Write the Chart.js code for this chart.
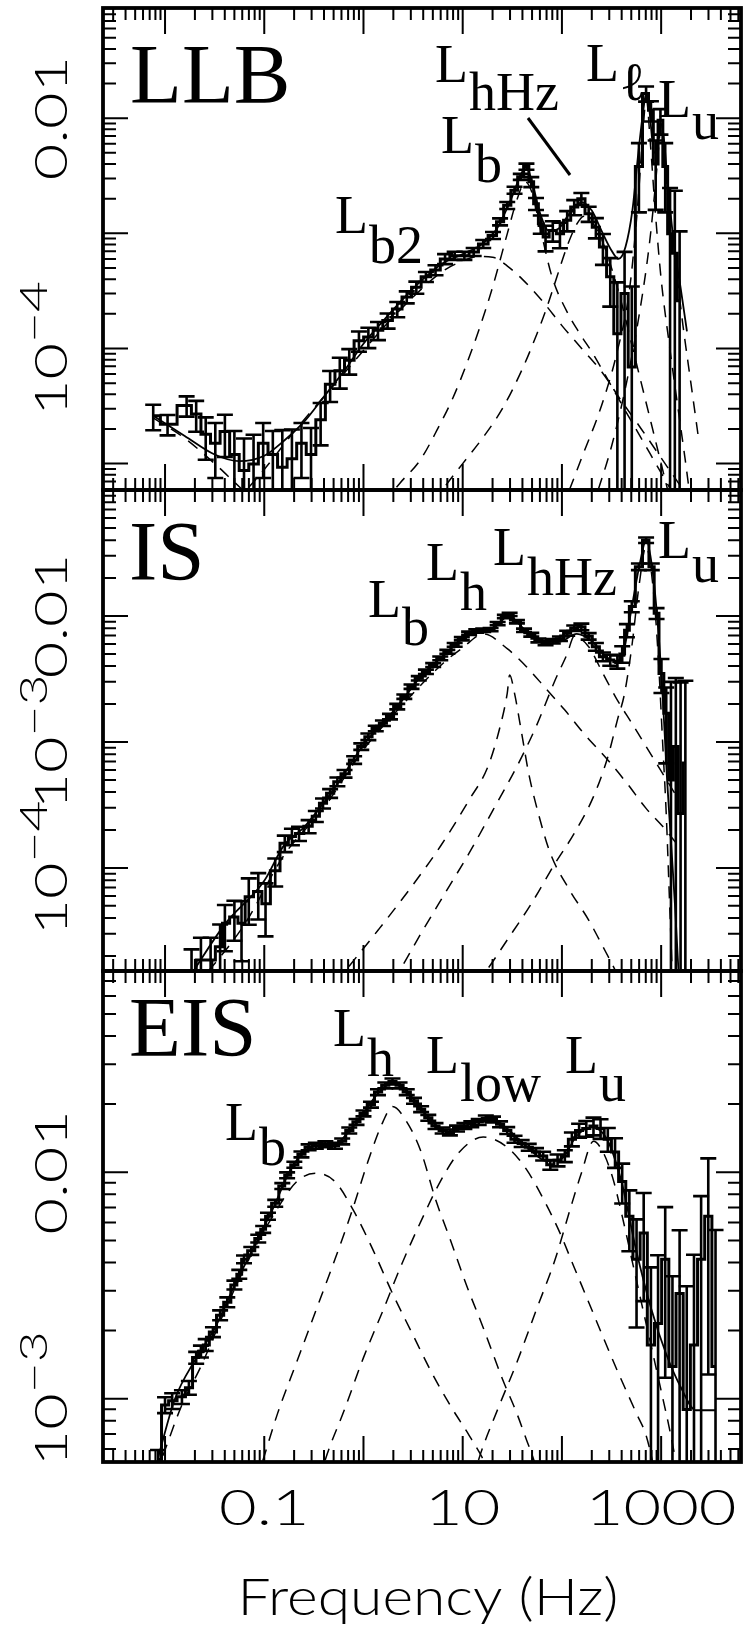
<!DOCTYPE html>
<html><head><meta charset="utf-8">
<script src="https://cdn.jsdelivr.net/npm/chart.js@4.4.0/dist/chart.umd.min.js"></script>
<style>
html,body{margin:0;padding:0;background:#fff;}
#wrap{position:relative;width:750px;height:1631px;overflow:hidden;background:#fff;}
canvas{position:absolute;left:0;top:0;}
</style></head><body>
<div id="wrap">
<canvas id="c1" width="750" height="1631"></canvas>
<canvas id="c2" width="750" height="1631"></canvas>
<canvas id="c3" width="750" height="1631"></canvas>
</div>
<script>
// ---------------- shared axis ----------------
const freqMin = 0.00237, freqMax = 6380;
const xTickValues = [0.1, 10, 1000];
const xTickLabels = ['0.1', '10', '1000'];
const xTitle = 'Frequency (Hz)';

// ---------------- LLB panel ----------------
const llbYRange = [5.9e-6, 0.0906];
const llbYTicks = [1e-4, 0.01];
const llbYLabels = ['10^\u22124', '0.01'];
const llbFreq = [7.6e-3,1.06e-2,1.65e-2,2.06e-2,2.57e-2,3.21e-2,4.01e-2,5.0e-2,6.25e-2,7.8e-2,
 9.75e-2,0.122,0.152,0.190,0.237,0.296,0.370,0.461,0.577,0.719,
 0.90,1.12,1.40,1.75,2.19,2.73,3.41,4.26,5.32,6.64,
 8.30,10.4,12.9,16.1,20.2,23.8,28.1,33.3,38.5,43.9,
 49.1,54.8,61.2,68.4,80.9,95.5,113,133,157,186,
 220,259,307,362,428,506,597,705,789,881,
 984,1099,1230,1374,1535];
const llbPower = [2.6e-5,2.2e-5,3.2e-5,2.7e-5,1.8e-5,1.5e-5,1.9e-5,1.2e-5,8.7e-6,9.9e-6,
 1.5e-5,1.2e-5,9.3e-6,1.1e-5,1.5e-5,1.2e-5,2.4e-5,4.9e-5,6.4e-5,7.9e-5,
 1.17e-4,1.26e-4,1.44e-4,1.75e-4,2.2e-4,2.8e-4,3.4e-4,4.2e-4,4.8e-4,6.0e-4,
 6.4e-4,6.4e-4,6.9e-4,8.1e-4,9.6e-4,1.26e-3,1.75e-3,2.37e-3,3.1e-3,3.8e-3,
 2.8e-3,1.81e-3,1.21e-3,9.3e-4,1.06e-3,9.9e-4,1.30e-3,1.69e-3,2.0e-3,1.48e-3,
 1.13e-3,7.6e-4,4.2e-4,1.34e-4,3.0e-4,6.9e-5,3.8e-3,1.64e-2,1.17e-2,4.0e-3,
 9.6e-3,3.8e-3,9.9e-4,6.7e-4,2.6e-4];
const llbRelErr = [0.25,0.2,0.2,0.3,0.4,0.5,0.4,0.6,0.9,0.8,
 0.5,0.6,1.1,0.8,0.5,0.7,0.4,0.3,0.3,0.25,
 0.2,0.2,0.18,0.15,0.15,0.12,0.12,0.1,0.1,0.1,
 0.08,0.08,0.08,0.08,0.07,0.07,0.07,0.07,0.06,0.06,
 0.1,0.12,0.18,0.25,0.2,0.25,0.2,0.15,0.12,0.15,
 0.2,0.3,0.45,1.8,1.3,4.0,0.6,0.15,0.2,0.6,
 0.25,0.6,1.5,2.5,3.0];
const llbModelF = [7.6e-3,1.58e-2,3.16e-2,5.6e-2,0.1,0.158,0.251,0.398,0.631,1.0,1.58,2.51,3.98,6.31,10,15.8,22.4,31.6,38,43.7,50,60,74,93,120,158,200,251,316,372,437,513,589,661,708,759,851,912,977,1047,1175,1349,1585,1820];
const llbModelP = [2.6e-5,1.74e-5,1.2e-5,1.05e-5,1.17e-5,1.58e-5,2.3e-5,3.8e-5,6.3e-5,1.1e-4,1.74e-4,2.7e-4,4.0e-4,5.5e-4,6.6e-4,8.1e-4,1.12e-3,2.1e-3,3.16e-3,3.8e-3,2.8e-3,1.51e-3,1.05e-3,1.10e-3,1.51e-3,1.86e-3,1.58e-3,1.05e-3,7.1e-4,6.0e-4,7.6e-4,1.58e-3,5.0e-3,1.17e-2,1.66e-2,1.2e-2,5.0e-3,6.0e-3,9.1e-3,7.6e-3,2.5e-3,7.9e-4,3.2e-4,1.41e-4];
const llbLfF = [7.6e-3,1.58e-2,3.16e-2,5.6e-2,0.1];
const llbLfP = [2.5e-5,1.66e-5,1.0e-5,6.3e-6,4.0e-6];
const llbB2F = [0.05,0.1,0.2,0.398,0.794,1.58,3.16,6.31,10,14.1,20,28.2,39.8,63.1,100,158,251,398,631,1000,1585,2512];
const llbB2P = [4.5e-6,8.9e-6,1.9e-5,3.8e-5,7.6e-5,1.51e-4,2.8e-4,4.7e-4,5.75e-4,6.3e-4,6.2e-4,5.2e-4,4.0e-4,2.6e-4,1.58e-4,1.0e-4,6.3e-5,3.5e-5,2.0e-5,1.12e-5,6.3e-6,3.5e-6];
const llbBF = [1.58,2.34,3.72,5.5,7.94,11.0,14.8,20,28.2,35.5,42.7,50.1,60.3,79.4,112,151,204,282,398,631,1000,1585];
const llbBP = [4.5e-6,6.8e-6,1.07e-5,1.95e-5,3.7e-5,7.4e-5,1.51e-4,3.4e-4,1.0e-3,2.0e-3,2.8e-3,2.24e-3,1.12e-3,4.2e-4,2.1e-4,1.35e-4,9.1e-5,5.6e-5,3.3e-5,1.66e-5,8.3e-6,4.2e-6];
const llbHhzF = [3.98,5.9,10,15.8,25.1,39.8,56.2,70.8,89.1,112,141,166,200,251,316,398,501,631,794,1000,1259];
const llbHhzP = [3.2e-6,5.5e-6,1.0e-5,1.66e-5,3.0e-5,6.6e-5,1.35e-4,2.3e-4,4.2e-4,7.6e-4,1.2e-3,1.41e-3,1.26e-3,8.9e-4,5.0e-4,2.5e-4,1.12e-4,5.0e-5,2.24e-5,1.0e-5,4.5e-6];
const llbLlF = [100,158,251,355,479,575,646,708,776,871,1000,1202,1445,1738,1995];
const llbLlP = [4.0e-6,1.12e-5,3.2e-5,8.9e-5,3.2e-4,1.58e-3,6.3e-3,1.48e-2,6.3e-3,1.58e-3,4.0e-4,1.12e-4,3.5e-5,1.12e-5,4.5e-6];
const llbLuF = [200,316,447,603,759,871,955,1000,1072,1202,1413,1660,1995,2399];
const llbLuP = [4.0e-6,1.41e-5,5.0e-5,2.0e-4,7.9e-4,2.5e-3,6.3e-3,8.9e-3,5.0e-3,1.58e-3,5.0e-4,1.58e-4,5.0e-5,1.58e-5];

// ---------------- IS panel ----------------
const isYRange = [1.52e-5, 0.1];
const isYTicks = [1e-4, 1e-3, 0.01];
const isYLabels = ['10^\u22124', '10^\u22123', '0.01'];
const isFreq = [1.85e-2,2.30e-2,2.88e-2,3.59e-2,4.01e-2,5.0e-2,5.9e-2,6.98e-2,8.7e-2,0.103,
 0.129,0.161,0.190,0.224,0.280,0.331,0.391,0.461,0.546,0.644,
 0.805,0.95,1.12,1.33,1.57,1.85,2.19,2.58,3.05,3.61,
 4.26,5.04,5.94,7.0,8.3,9.8,11.6,13.7,16.1,19.1,
 22.5,26.6,29.7,35.2,41.5,49.1,57.9,68.4,80.9,95.5,
 113,133,157,186,220,259,307,362,405,452,
 506,597,705,805,899,1007,1125,1256,1406,1570,1754];
const isPower = [1.41e-5,1.86e-5,1.86e-5,2.37e-5,3.63e-5,4.07e-5,3.63e-5,5.9e-5,6.5e-5,5.2e-5,
 9.5e-5,1.57e-4,1.78e-4,1.88e-4,2.14e-4,2.57e-4,3.26e-4,3.91e-4,4.84e-4,5.6e-4,
 7.2e-4,9.2e-4,1.10e-3,1.28e-3,1.41e-3,1.59e-3,1.91e-3,2.29e-3,2.75e-3,3.2e-3,
 3.61e-3,4.08e-3,4.61e-3,5.2e-3,5.9e-3,6.6e-3,7.3e-3,7.6e-3,7.7e-3,7.8e-3,
 8.7e-3,9.9e-3,1.03e-2,9.0e-3,7.7e-3,7.1e-3,6.4e-3,6.1e-3,6.3e-3,6.6e-3,
 7.3e-3,8.0e-3,8.2e-3,6.9e-3,5.7e-3,4.75e-3,4.47e-3,4.34e-3,5.0e-3,7.7e-3,
 1.19e-2,2.46e-2,4.0e-2,2.46e-2,1.05e-2,3.5e-3,1.69e-3,5.0e-4,9.2e-4,2.7e-4,6.8e-4];
const isRelErr = [0.6,0.5,0.5,0.5,0.4,0.35,0.5,0.4,0.4,0.45,
 0.25,0.15,0.15,0.13,0.12,0.1,0.09,0.08,0.08,0.07,
 0.07,0.06,0.06,0.05,0.05,0.05,0.05,0.04,0.04,0.04,
 0.04,0.035,0.035,0.035,0.035,0.03,0.03,0.03,0.03,0.03,
 0.03,0.03,0.03,0.03,0.03,0.035,0.035,0.04,0.04,0.04,
 0.045,0.05,0.06,0.06,0.07,0.08,0.1,0.12,0.15,0.12,
 0.1,0.06,0.05,0.06,0.1,0.3,0.6,5,2.5,10,3.5];
const isModelF = [1.82e-2,3.98e-2,0.1,0.158,0.251,0.398,0.631,1,1.58,2.51,3.98,6.31,10,15.8,20,25.1,29.5,35.5,50.1,70.8,100,141,200,282,355,417,501,603,708,813,933,1047,1148,1259,1380,1514];
const isModelP = [1.41e-5,3.55e-5,7.9e-5,1.51e-4,2.1e-4,3.3e-4,5.5e-4,9.5e-4,1.41e-3,2.19e-3,3.47e-3,4.8e-3,6.6e-3,7.8e-3,7.9e-3,9.3e-3,1.02e-2,8.9e-3,6.9e-3,6.0e-3,6.3e-3,7.2e-3,6.3e-3,4.7e-3,4.4e-3,5.2e-3,1.12e-2,2.5e-2,3.98e-2,2.4e-2,7.9e-3,2.0e-3,5.0e-4,1.58e-4,5.0e-5,1.26e-5];
const isBF = [2.0e-2,6.3e-2,0.158,0.398,1.0,2.51,6.31,10,16.2,28.1,43.9,68.4,107,166,290,452,705,1040,1585];
const isBP = [1.12e-5,3.55e-5,1.26e-4,3.0e-4,8.7e-4,2.0e-3,4.2e-3,5.6e-3,7.2e-3,5.5e-3,3.96e-3,2.67e-3,1.79e-3,1.17e-3,7.2e-4,4.7e-4,2.97e-4,2.13e-4,1.41e-4];
const isHF = [0.398,0.61,1.40,3.05,5.94,11.6,18.0,23.8,28.1,29.7,33.3,39.3,46.3,57.9,76.4,119,186,259,343,447];
const isHP = [8.9e-6,1.41e-5,3.2e-5,7.1e-5,1.48e-4,3.46e-4,6.4e-4,1.32e-3,2.43e-3,3.4e-3,2.43e-3,1.17e-3,5.6e-4,2.7e-4,1.31e-4,6.7e-5,3.86e-5,2.37e-5,1.55e-5,1.0e-5];
const isHhzF = [1.58,2.19,3.81,6.64,11.6,20.2,35.2,54.8,85.5,113,133,186,259,362,506,705,984,1374];
const isHhzP = [8.9e-6,1.41e-5,3.03e-5,6.3e-5,1.31e-4,2.88e-4,6.4e-4,1.32e-3,3.1e-3,5.0e-3,6.9e-3,5.7e-3,3.5e-3,2.15e-3,1.41e-3,9.2e-4,6.0e-4,3.9e-4];
const isUF = [10,16.1,28.1,49.1,85.5,133,208,290,362,428,506,597,705,834,931,1040,1125,1227,1297];
const isUP = [8.9e-6,1.41e-5,2.68e-5,5.2e-5,1.09e-4,1.88e-4,3.68e-4,7.6e-4,1.49e-3,2.43e-3,5.7e-3,1.71e-2,3.55e-2,1.61e-2,5.0e-3,9.2e-4,2.7e-4,4.4e-5,1.41e-5];

// ---------------- EIS panel ----------------
const eisYRange = [5.26e-4, 0.0774];
const eisYTicks = [1e-3, 0.01];
const eisYLabels = ['10^\u22123', '0.01'];
const eisFreq = [8.5e-3,1.0e-2,1.18e-2,1.48e-2,1.74e-2,2.06e-2,2.30e-2,2.57e-2,3.04e-2,3.59e-2,
 4.24e-2,5.0e-2,5.6e-2,6.25e-2,7.4e-2,8.7e-2,9.75e-2,0.109,0.129,0.152,
 0.170,0.201,0.237,0.280,0.331,0.413,0.516,0.610,0.719,0.851,
 1.0,1.19,1.40,1.66,1.96,2.31,2.73,3.23,3.81,4.50,
 5.32,6.28,7.43,8.77,10.4,12.2,14.5,17.1,20.2,23.8,
 28.1,33.3,39.3,46.3,54.8,64.7,76.4,90.4,107,126,
 149,176,208,245,290,343,405,478,565,667,
 789,931,1099,1300,1535,1811,2143,2529,2985,3532];
const eisPower = [5.4e-4,9.4e-4,9.8e-4,1.02e-3,1.12e-3,1.52e-3,1.62e-3,1.73e-3,1.97e-3,2.34e-3,
 2.67e-3,3.18e-3,3.55e-3,4.13e-3,4.5e-3,5.1e-3,5.6e-3,6.4e-3,7.3e-3,8.7e-3,
 9.7e-3,1.08e-2,1.20e-2,1.29e-2,1.31e-2,1.33e-2,1.31e-2,1.37e-2,1.53e-2,1.67e-2,
 1.82e-2,1.99e-2,2.26e-2,2.42e-2,2.52e-2,2.42e-2,2.26e-2,2.07e-2,1.90e-2,1.74e-2,
 1.60e-2,1.53e-2,1.50e-2,1.56e-2,1.60e-2,1.63e-2,1.67e-2,1.73e-2,1.71e-2,1.63e-2,
 1.53e-2,1.40e-2,1.34e-2,1.29e-2,1.23e-2,1.18e-2,1.08e-2,1.13e-2,1.18e-2,1.40e-2,
 1.53e-2,1.56e-2,1.60e-2,1.56e-2,1.40e-2,1.23e-2,9.1e-3,6.4e-3,4.13e-3,5.4e-3,
 1.73e-3,2.15e-3,4.13e-3,1.39e-3,2.92e-3,8.97e-4,1.73e-3,4.13e-3,6.4e-3,1.39e-3];
const eisRelErr = [0.1,0.08,0.08,0.07,0.07,0.06,0.06,0.06,0.05,0.05,
 0.05,0.045,0.045,0.04,0.04,0.04,0.035,0.035,0.035,0.03,
 0.03,0.03,0.03,0.03,0.03,0.03,0.03,0.03,0.03,0.03,
 0.03,0.03,0.03,0.03,0.03,0.03,0.03,0.03,0.03,0.03,
 0.03,0.03,0.03,0.03,0.03,0.03,0.03,0.03,0.03,0.03,
 0.035,0.035,0.035,0.035,0.04,0.045,0.05,0.06,0.06,0.07,
 0.07,0.08,0.09,0.1,0.12,0.15,0.2,0.3,0.5,0.5,
 1.2,1.0,0.7,1.5,0.9,2.5,1.5,0.9,0.8,3];
const eisModelF = [8.5e-3,1.26e-2,2.0e-2,3.16e-2,5.0e-2,7.9e-2,0.126,0.178,0.251,0.355,0.501,0.708,1,1.41,2.0,2.82,3.98,5.62,7.94,11.2,17.8,28.2,44.7,70.8,100,141,200,282,398,562,794,1122,1585,2239,3548];
const eisModelP = [5.5e-4,1.0e-3,1.48e-3,2.04e-3,3.16e-3,4.7e-3,7.1e-3,1.0e-2,1.23e-2,1.32e-2,1.32e-2,1.51e-2,1.82e-2,2.24e-2,2.51e-2,2.24e-2,1.86e-2,1.58e-2,1.51e-2,1.62e-2,1.72e-2,1.55e-2,1.29e-2,1.12e-2,1.15e-2,1.45e-2,1.58e-2,1.41e-2,9.1e-3,4.5e-3,2.5e-3,1.58e-3,1.12e-3,8.9e-4,8.9e-4];
const eisBF = [9.5e-3,1.48e-2,2.30e-2,4.01e-2,6.98e-2,0.122,0.212,0.331,0.516,0.805,1.26,1.96,3.05,4.76,7.43,11.6,16.1,22.4];
const eisBP = [5.6e-4,9.4e-4,1.39e-3,2.45e-3,4.13e-3,6.4e-3,9.1e-3,9.9e-3,9.1e-3,6.7e-3,4.5e-3,2.92e-3,1.97e-3,1.33e-3,9.4e-4,6.9e-4,5.4e-4,4.0e-4];
const eisHF = [7.1e-2,9.75e-2,0.136,0.212,0.331,0.516,0.762,1.12,1.57,1.96,2.73,3.81,5.32,7.43,10.9,16.1,25.2,35.2,43.9,51.9,63.1];
const eisHP = [3.55e-4,5.4e-4,8.6e-4,1.45e-3,2.45e-3,4.13e-3,6.7e-3,1.13e-2,1.67e-2,1.95e-2,1.67e-2,1.23e-2,7.6e-3,5.1e-3,3.18e-3,2.06e-3,1.22e-3,8.6e-4,6.6e-4,5.4e-4,4.0e-4];
const eisLowF = [0.316,0.413,0.644,1.0,1.57,2.44,3.81,5.94,9.27,16.1,28.1,43.9,68.4,95.5,133,186,259,362,565,705,891];
const eisLowP = [3.55e-4,5.4e-4,8.97e-4,1.52e-3,2.45e-3,3.95e-3,6.1e-3,9.1e-3,1.23e-2,1.43e-2,1.29e-2,1.03e-2,7.3e-3,5.4e-3,3.8e-3,2.67e-3,1.88e-3,1.33e-3,8.6e-4,6.9e-4,4.5e-4];
const eisUF = [11.2,14.5,22.5,35.2,54.8,85.5,119,157,208,259,324,405,506,631,789,984,1227,1585];
const eisUP = [3.55e-4,5.4e-4,8.97e-4,1.45e-3,2.45e-3,4.13e-3,6.7e-3,9.9e-3,1.37e-2,1.23e-2,9.5e-3,6.4e-3,4.13e-3,2.67e-3,1.73e-3,1.12e-3,7.2e-4,4.0e-4];

// ---------------- layout (pixels) ----------------
const SERIF = "'Liberation Serif','Times New Roman','DejaVu Serif',serif";
const SANS = "Lato,'Liberation Sans',sans-serif";
const plotLeft = 103, plotRight = 741;
const panelLayout = [
  {canvas:'c1', top:8, bottom:490, name:'LLB', nameX:130, nameY:103,
   comps:[{s:'b2',x:335,y:233,sy:263},{s:'hHz',x:435,y:82,sy:110},{s:'b',x:441,y:153,sy:182},{s:'\u2113',x:586,y:81,sy:100},{s:'u',x:658,y:117,sy:139}],
   pointer:[528,118,570,175]},
  {canvas:'c2', top:490, bottom:971, name:'IS', nameX:129, nameY:580,
   comps:[{s:'b',x:368,y:617,sy:645},{s:'h',x:426,y:580,sy:610},{s:'hHz',x:493,y:565,sy:595},{s:'u',x:658,y:558,sy:582}]},
  {canvas:'c3', top:971, bottom:1462, name:'EIS', nameX:129, nameY:1056,
   comps:[{s:'b',x:225,y:1140,sy:1165},{s:'h',x:333,y:1046,sy:1076},{s:'low',x:426,y:1073,sy:1101},{s:'u',x:565,y:1073,sy:1101}],
   xAxis:true}
];
const yLabelFont = {size:45, stretch:1.4, baseX:67};
const xLabelFont = {size:50, stretch:1.3, baseY:1525};
const titleFont = {size:52, stretch:1.13, x:428, y:1615};

function pts(F, P) { return F.map((f, i) => ({x: f, y: P[i]})); }
function dataSet(F, P, E) {
  return {data: pts(F, P), relErr: E, borderColor:'#000', borderWidth:3, stepped:'middle', pointRadius:0, clip:0, order:0};
}
function modelSet(F, P) {
  return {data: pts(F, P), borderColor:'#000', borderWidth:1.8, pointRadius:0, cubicInterpolationMode:'monotone', clip:0, order:1};
}
function compSet(F, P) {
  return {data: pts(F, P), borderColor:'#000', borderWidth:1.5, borderDash:[12,9], pointRadius:0, cubicInterpolationMode:'monotone', clip:0, order:2};
}

const panelData = [
  {yRange: llbYRange, yTicks: llbYTicks, yLabels: llbYLabels, sets: [
    compSet(llbLfF, llbLfP), compSet(llbB2F, llbB2P), compSet(llbBF, llbBP), compSet(llbHhzF, llbHhzP),
    compSet(llbLlF, llbLlP), compSet(llbLuF, llbLuP), modelSet(llbModelF, llbModelP), dataSet(llbFreq, llbPower, llbRelErr)]},
  {yRange: isYRange, yTicks: isYTicks, yLabels: isYLabels, sets: [
    compSet(isBF, isBP), compSet(isHF, isHP), compSet(isHhzF, isHhzP), compSet(isUF, isUP),
    modelSet(isModelF, isModelP), dataSet(isFreq, isPower, isRelErr)]},
  {yRange: eisYRange, yTicks: eisYTicks, yLabels: eisYLabels, sets: [
    compSet(eisBF, eisBP), compSet(eisHF, eisHP), compSet(eisLowF, eisLowP), compSet(eisUF, eisUP),
    modelSet(eisModelF, eisModelP), dataSet(eisFreq, eisPower, eisRelErr)]}
];

function drawRotLabel(ctx, text, xBase, yCenter) {
  const size = yLabelFont.size, st = yLabelFont.stretch;
  const parts = text.split('^');
  const base = parts[0], sup = parts[1] || '';
  const supSize = size * 0.85;
  ctx.save();
  ctx.font = '300 ' + size + 'px ' + SANS;
  const wb = ctx.measureText(base).width;
  ctx.font = '300 ' + supSize + 'px ' + SANS;
  const ws = sup ? ctx.measureText(sup).width : 0;
  const total = wb + ws;
  ctx.translate(xBase, yCenter);
  ctx.rotate(-Math.PI / 2);
  ctx.scale(st, 1);
  ctx.fillStyle = '#000';
  ctx.textBaseline = 'alphabetic';
  ctx.textAlign = 'left';
  ctx.font = '300 ' + size + 'px ' + SANS;
  ctx.fillText(base, -total / 2, 0);
  if (sup) {
    ctx.font = '300 ' + supSize + 'px ' + SANS;
    ctx.fillText(sup, -total / 2 + wb, -size * 0.45);
  }
  ctx.restore();
}
function drawStretched(ctx, text, x, y, size, st) {
  ctx.save();
  ctx.translate(x, y);
  ctx.scale(st, 1);
  ctx.font = '300 ' + size + 'px ' + SANS;
  ctx.textAlign = 'center';
  ctx.textBaseline = 'alphabetic';
  ctx.fillStyle = '#000';
  ctx.fillText(text, 0, 0);
  ctx.restore();
}

const decorPlugin = {
  id: 'decor',
  afterDatasetsDraw(chart) {
    const {ctx, chartArea: a} = chart;
    const xs = chart.scales.x, ys = chart.scales.y;
    ctx.save();
    ctx.beginPath(); ctx.rect(a.left, a.top, a.right - a.left, a.bottom - a.top); ctx.clip();
    ctx.strokeStyle = '#000'; ctx.lineWidth = 2.6; ctx.lineCap = 'butt';
    const cap = 8;
    chart.data.datasets.forEach(ds => {
      if (!ds.relErr) return;
      ds.data.forEach((p, i) => {
        const r = ds.relErr[i];
        const px = xs.getPixelForValue(p.x);
        const hi = ys.getPixelForValue(p.y * (1 + r));
        const hasLo = (1 - r) > 0;
        const lo = hasLo ? ys.getPixelForValue(p.y * (1 - r)) : a.bottom + 10;
        ctx.beginPath();
        ctx.moveTo(px, hi); ctx.lineTo(px, lo);
        ctx.moveTo(px - cap, hi); ctx.lineTo(px + cap, hi);
        if (hasLo) { ctx.moveTo(px - cap, lo); ctx.lineTo(px + cap, lo); }
        ctx.stroke();
      });
    });
    ctx.restore();
  },
  afterDraw(chart) {
    const {ctx, chartArea: a} = chart;
    const xs = chart.scales.x, ys = chart.scales.y;
    const L = chart.options.plugins.decor;
    ctx.save();
    ctx.strokeStyle = '#000';
    ctx.lineWidth = 2;
    ctx.beginPath();
    for (let k = -4; k <= 4; k++) {
      for (let m = 1; m <= 9; m++) {
        const v = m * Math.pow(10, k);
        if (v > xs.min && v < xs.max) {
          const px = xs.getPixelForValue(v);
          const len = m === 1 ? 26 : 12;
          ctx.moveTo(px, a.bottom); ctx.lineTo(px, a.bottom - len);
          ctx.moveTo(px, a.top); ctx.lineTo(px, a.top + len);
        }
      }
    }
    for (let k = -7; k <= 0; k++) {
      for (let m = 1; m <= 9; m++) {
        const v = m * Math.pow(10, k);
        if (v > ys.min && v < ys.max) {
          const py = ys.getPixelForValue(v);
          const len = m === 1 ? 25 : 13;
          ctx.moveTo(a.left, py); ctx.lineTo(a.left + len, py);
          ctx.moveTo(a.right, py); ctx.lineTo(a.right - len, py);
        }
      }
    }
    ctx.stroke();
    ctx.lineWidth = 3.8;
    ctx.strokeRect(a.left, a.top, a.right - a.left, a.bottom - a.top);
    L.yTicks.forEach((v, i) => drawRotLabel(ctx, L.yLabels[i], yLabelFont.baseX, ys.getPixelForValue(v)));
    ctx.fillStyle = '#000';
    ctx.textAlign = 'left'; ctx.textBaseline = 'alphabetic';
    ctx.font = '85px ' + SERIF;
    ctx.fillText(L.layout.name, L.layout.nameX, L.layout.nameY);
    ctx.font = '54px ' + SERIF;
    L.layout.comps.forEach(c => {
      ctx.fillText('L', c.x, c.y);
      const w = ctx.measureText('L').width;
      ctx.fillText(c.s, c.x + w + 1, c.sy);
    });
    if (L.layout.pointer) {
      const p = L.layout.pointer;
      ctx.lineWidth = 3;
      ctx.beginPath(); ctx.moveTo(p[0], p[1]); ctx.lineTo(p[2], p[3]); ctx.stroke();
    }
    if (L.layout.xAxis) {
      xTickValues.forEach((v, i) => drawStretched(ctx, xTickLabels[i], xs.getPixelForValue(v), xLabelFont.baseY, xLabelFont.size, xLabelFont.stretch));
      drawStretched(ctx, xTitle, titleFont.x, titleFont.y, titleFont.size, titleFont.stretch);
    }
    ctx.restore();
  }
};

panelLayout.forEach((lay, idx) => {
  const pd = panelData[idx];
  new Chart(document.getElementById(lay.canvas), {
    type: 'line',
    data: {datasets: pd.sets},
    options: {
      responsive: false, animation: false, devicePixelRatio: 1,
      layout: {padding: {left: plotLeft, right: 750 - plotRight, top: lay.top, bottom: 1631 - lay.bottom}},
      plugins: {legend: {display: false}, tooltip: {enabled: false}, title: {display: false},
        decor: {layout: lay, yTicks: pd.yTicks, yLabels: pd.yLabels}},
      scales: {
        x: {type: 'logarithmic', min: freqMin, max: freqMax, display: false},
        y: {type: 'logarithmic', min: pd.yRange[0], max: pd.yRange[1], display: false}
      }
    },
    plugins: [decorPlugin]
  });
});
</script>
</body></html>
